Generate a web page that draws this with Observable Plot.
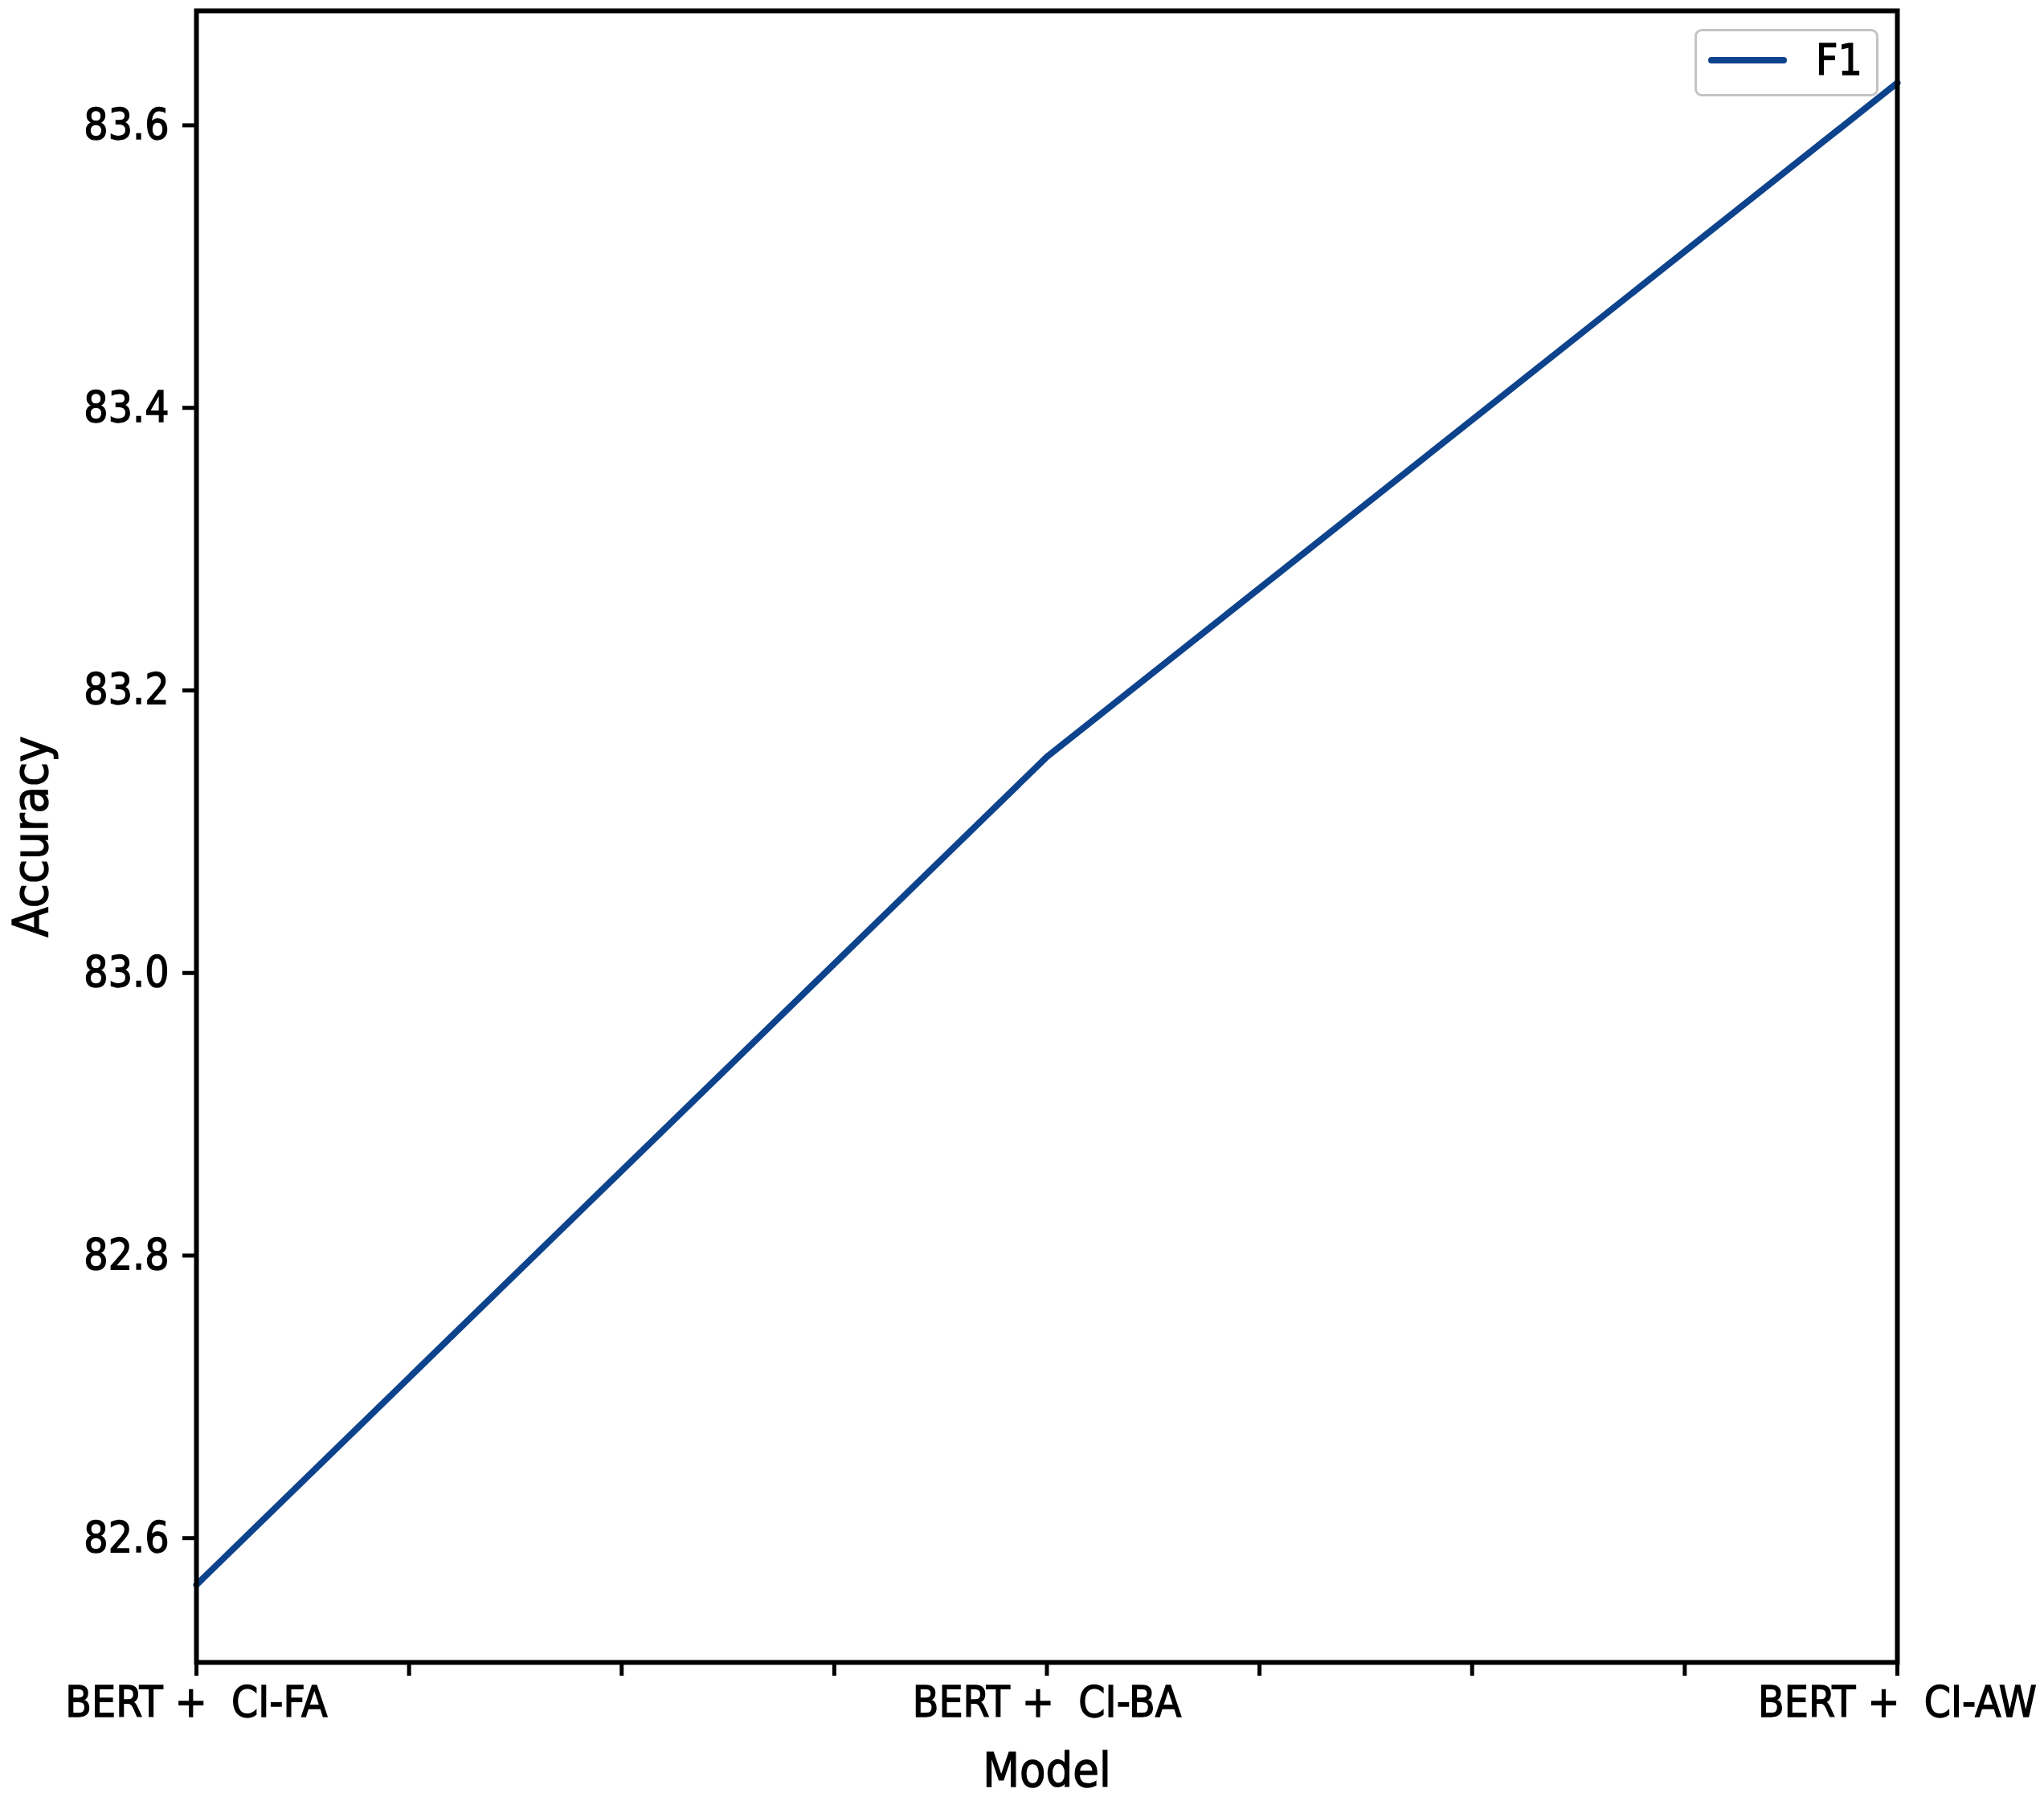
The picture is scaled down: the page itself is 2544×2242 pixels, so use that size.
<!DOCTYPE html>
<html>
<head>
<meta charset="utf-8">
<script src="https://cdn.jsdelivr.net/npm/d3@7"></script>
<script src="https://cdn.jsdelivr.net/npm/@observablehq/plot@0.6"></script>
<style>
  html, body { margin: 0; padding: 0; background: #fff; }
  #wrap { position: relative; width: 2544px; height: 2242px; }
  #legend {
    position: absolute; left: 2109px; top: 36px; width: 229px; height: 84px;
    box-sizing: border-box; border: 3px solid #c4c4c4; border-radius: 9px; background: #fff;
    font-family: 'DejaVu Sans Condensed', 'DejaVu Sans', sans-serif; font-stretch: condensed;
    font-size: 53px; color: #000; -webkit-text-stroke: 1.3px #000;
  }
  #legend .sw { position: absolute; left: 14px; top: 32px; width: 98px; height: 8px; background: #0d438c; border-radius: 4px; }
  #legend .lb { position: absolute; left: 148px; top: 8px; line-height: 56px; }
  svg text { white-space: pre; stroke: #000; stroke-width: 1.3px; }
</style>
</head>
<body>
<div id="wrap"><div id="legend"><div class="sw"></div><div class="lb">F1</div></div></div>
<script>
const categories = ["BERT +  CI-FA", "BERT +  CI-BA", "BERT +  CI-AW"];
const f1Values = [82.567, 83.153, 83.630];
const seriesName = "F1";
const yTicks = [82.6, 82.8, 83.0, 83.2, 83.4, 83.6];
const xTickSteps = [0, 0.25, 0.5, 0.75, 1, 1.25, 1.5, 1.75, 2];

const data = categories.map((c, i) => ({i, model: c, value: f1Values[i]}));
const font = "'DejaVu Sans Condensed', 'DejaVu Sans', sans-serif";

const chart = Plot.plot({
  width: 2544,
  height: 2242,
  marginLeft: 244,
  marginRight: 183,
  marginTop: 13,
  marginBottom: 173,
  style: {fontFamily: font, fontSize: "53px", color: "#000", background: "#fff", fontStretch: "condensed"},
  x: {domain: [0, 2]},
  y: {domain: [82.512, 83.681]},
  marks: [
    Plot.axisX({
      ticks: xTickSteps, tickSize: 17, tickPadding: 13, strokeWidth: 5,
      tickFormat: d => Number.isInteger(d) ? categories[d] : "",
      label: null, fontSize: 53
    }),
    Plot.axisY({
      ticks: yTicks, tickSize: 17, tickPadding: 17, strokeWidth: 5,
      tickFormat: d3.format(".1f"), label: null, fontSize: 53
    }),
    Plot.line(data, {x: "i", y: "value", stroke: "#0d438c", strokeWidth: 8}),
    Plot.frame({stroke: "#000", strokeWidth: 6}),
    Plot.text(["Model"], {frameAnchor: "bottom", dy: 136, lineAnchor: "middle", textAnchor: "middle", fontSize: 59}),
    Plot.text(["Accuracy"], {frameAnchor: "left", dx: -205, rotate: -90, lineAnchor: "middle", textAnchor: "middle", fontSize: 61})
  ]
});
document.getElementById("wrap").prepend(chart);
</script>
</body>
</html>
